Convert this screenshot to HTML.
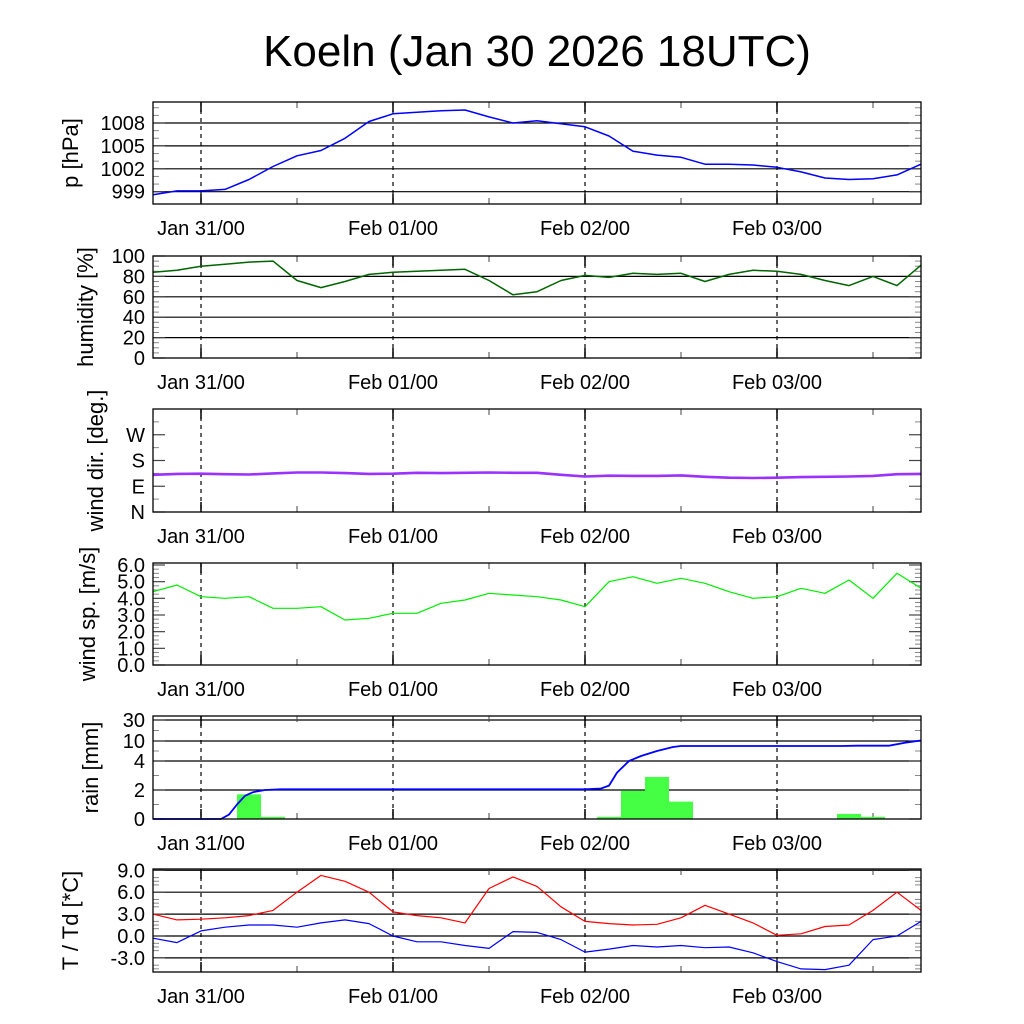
<!DOCTYPE html>
<html><head><meta charset="utf-8"><style>
html,body{margin:0;padding:0;background:#fff;}
svg{display:block;font-family:"Liberation Sans",sans-serif;}
</style></head><body>
<svg id="c" width="1024" height="1024" viewBox="0 0 1024 1024">
<text x="537" y="66" font-size="44" text-anchor="middle">Koeln (Jan 30 2026 18UTC)</text>
</svg>
<script>
const hours3 = [0,3,6,9,12,15,18,21,24,27,30,33,36,39,42,45,48,51,54,57,60,63,66,69,72,75,78,81,84,87,90,93,96];
const pressure = [998.6,999.1,999.1,999.3,1000.6,1002.3,1003.7,1004.4,1006.0,1008.2,1009.2,1009.4,1009.6,1009.7,1008.8,1008.0,1008.3,1007.9,1007.5,1006.3,1004.3,1003.8,1003.5,1002.6,1002.6,1002.5,1002.2,1001.6,1000.8,1000.6,1000.7,1001.2,1002.6];
const humidity = [84,86,90,92,94,95,76,69,75,82,84,85,86,87,76,62,65,76,81,79,83,82,83,75,82,86,85,82,76,71,80,71,91];
const windDir = [130,133,134,132,131,135,138,138,136,133,134,137,136,137,138,137,137,130,124,127,126,126,128,123,120,119,120,122,123,124,126,132,133];
const windSpd = [4.4,4.8,4.1,4.0,4.1,3.4,3.4,3.5,2.7,2.8,3.1,3.1,3.7,3.9,4.3,4.2,4.1,3.9,3.5,5.0,5.3,4.9,5.2,4.9,4.4,4.0,4.1,4.6,4.3,5.1,4.0,5.5,4.6];
const temp = [3.0,2.2,2.3,2.5,2.8,3.5,6.0,8.3,7.5,6.0,3.3,2.8,2.5,1.8,6.5,8.1,6.8,4.0,2.0,1.7,1.5,1.6,2.5,4.2,3.0,1.8,0.1,0.3,1.3,1.5,3.5,6.0,3.5];
const dewp = [-0.3,-0.9,0.7,1.2,1.5,1.5,1.2,1.8,2.2,1.7,0.0,-0.8,-0.8,-1.3,-1.7,0.6,0.5,-0.5,-2.2,-1.8,-1.3,-1.5,-1.3,-1.6,-1.5,-2.3,-3.5,-4.5,-4.6,-4.0,-0.5,0.0,2.0];
const rainCumHours = [0,8.5,9.5,10.5,11.5,12.5,14,16,54,56,57,58,59.5,61,63,65,66,86,88,92,94,96];
const rainCum = [0,0,0.3,1.0,1.6,1.85,2.0,2.05,2.05,2.1,2.3,3.2,4.0,5.5,7.0,8.2,8.5,8.5,8.6,8.6,9.5,10.5];
const rainBarStart = [10.5,13.5,55.5,58.5,61.5,64.5,85.5,88.5];
const rainBarVal = [1.7,0.15,0.15,1.95,2.9,1.2,0.35,0.15];
const dayLabels = ["Jan 31/00","Feb 01/00","Feb 02/00","Feb 03/00"];
const dayHours = [6,30,54,78];

const svg = document.getElementById('c');
const NS = 'http://www.w3.org/2000/svg';
const X0 = 153, X1 = 921;
const xs = h => X0 + (X1 - X0) * h / 96;
function el(tag, attrs, parent){const e=document.createElementNS(NS,tag);for(const k in attrs)e.setAttribute(k,attrs[k]);(parent||svg).appendChild(e);return e;}
function lin(v0,v1,y0,y1){return v=>y0+(v-v0)*(y1-y0)/(v1-v0);}
function piece(vals,ys){return v=>{for(let i=0;i<vals.length-1;i++){if(v<=vals[i+1]||i===vals.length-2){return ys[i]+(v-vals[i])*(ys[i+1]-ys[i])/(vals[i+1]-vals[i]);}}};}

function panel(name, top, bot, ymap, ticks, labels, minors, grid, title, titleX){
  const g = el('g',{});
  
  
  if (grid) ticks.forEach(t=>{const y=ymap(t); if(y>top+1&&y<bot-1){const l=el('line',{x1:X0,x2:X1,y1:y,y2:y,stroke:'#000','stroke-width':1.2},g);}});
  minors.forEach(t=>{const y=ymap(t);el('line',{x1:X0,x2:X0+6,y1:y,y2:y,stroke:'#888','stroke-width':1},g);el('line',{x1:X1-6,x2:X1,y1:y,y2:y,stroke:'#888','stroke-width':1},g);});
  ticks.forEach((t,i)=>{const y=ymap(t);
    el('line',{x1:X0,x2:X0+12,y1:y,y2:y,stroke:'#444','stroke-width':1.2},g);
    el('line',{x1:X1-12,x2:X1,y1:y,y2:y,stroke:'#444','stroke-width':1.2},g);
    const tx=el('text',{x:145,y:y+7,'font-size':20,'text-anchor':'end'},g);tx.textContent=labels[i];
    
    
  });
  dayHours.forEach((h,i)=>{const x=xs(h);
    el('line',{x1:x,x2:x,y1:top,y2:bot,stroke:'#000','stroke-width':1.2,'stroke-dasharray':'4,4'},g);
    el('line',{x1:x,x2:x,y1:bot-10,y2:bot,stroke:'#000','stroke-width':1.5},g);
    el('line',{x1:x,x2:x,y1:top,y2:top+10,stroke:'#000','stroke-width':1.5},g);
    const tx=el('text',{x:x,y:bot+31,'font-size':20,'text-anchor':'middle'},g);tx.textContent=dayLabels[i];
    
    
  });
  [18,42,66,90].forEach(h=>{const x=xs(h);el('line',{x1:x,x2:x,y1:bot-6,y2:bot,stroke:'#444'},g);el('line',{x1:x,x2:x,y1:top,y2:top+6,stroke:'#444'},g);});
  const tt=el('text',{x:0,y:0,'font-size':22,'text-anchor':'middle',transform:`translate(${titleX},${(top+bot)/2}) rotate(-90)`},g);tt.textContent=title;
  
  
  return g;
}
function frame(name,top,bot){const r=el('rect',{x:X0,y:top,width:X1-X0,height:bot-top,fill:'none',stroke:'#000','stroke-width':1.3});}
function line(name,hrs,vals,ymap,color,w){const d=hrs.map((h,i)=>(i?'L':'M')+xs(h).toFixed(1)+','+ymap(vals[i]).toFixed(1)).join('');const p=el('path',{d:d,fill:'none',stroke:color,'stroke-width':w,'stroke-linejoin':'round'});}

// Pressure
const yP = lin(999,1008,191.7,123);
panel('pressure',102,204,yP,[999,1002,1005,1008],['999','1002','1005','1008'],[1000,1001,1003,1004,1006,1007,1009,1010],true,'p [hPa]',78);
line('pressure-line',hours3,pressure,yP,'#0000ff',1.5);
frame('pressure',102,204);

// Humidity
const yH = lin(0,100,358,256);
panel('humidity',256,358,yH,[0,20,40,60,80,100],['0','20','40','60','80','100'],[5,10,15,25,30,35,45,50,55,65,70,75,85,90,95],true,'humidity [%]',93);
line('humidity-line',hours3,humidity,yH,'#006400',1.5);
frame('humidity',256,358);

// Wind dir
const yD = lin(0,360,512,409);
panel('winddir',409,512,yD,[0,90,180,270],['N','E','S','W'],[45,135,225,315],false,'wind dir. [deg.]',103);
line('wind-direction-line',hours3,windDir,yD,'#9b30ff',2.6);
frame('winddir',409,512);

// Wind speed
const yS = lin(0,6,665,565);
panel('windspeed',563,665,yS,[0,1,2,3,4,5,6],['0.0','1.0','2.0','3.0','4.0','5.0','6.0'],[0.25,0.5,0.75,1.25,1.5,1.75,2.25,2.5,2.75,3.25,3.5,3.75,4.25,4.5,4.75,5.25,5.5,5.75],false,'wind sp. [m/s]',95);
line('wind-speed-line',hours3,windSpd,yS,'#00ee00',1.2);
frame('windspeed',563,665);

// Rain
const yR = piece([0,2,4,10,30],[819,790,761,741,720]);
panel('rain',716,819,yR,[0,2,4,10,30],['0','2','4','10','30'],[1,3,7,20],true,'rain [mm]',98);
rainBarStart.forEach((h,i)=>{
  const r=el('rect',{x:xs(h),y:yR(rainBarVal[i]),width:xs(h+3)-xs(h),height:819-yR(rainBarVal[i]),fill:'#44ff44'});
  
  
});
line('rain-cumulative-line',rainCumHours,rainCum,yR,'#0000ff',1.8);
frame('rain',716,819);

// Temperature
const yT = lin(0,9,936,870.3);
panel('temperature',869,972,yT,[-3,0,3,6,9],['-3.0','0.0','3.0','6.0','9.0'],[-4.5,-1.5,1.5,4.5,7.5,-4,-2,-1,1,2,4,5,7,8],true,'T / Td [*C]',78);
line('temperature-line',hours3,temp,yT,'#ff0000',1.2);
line('dewpoint-line',hours3,dewp,yT,'#0000ff',1.2);
frame('temperature',869,972);
</script>
</body></html>
